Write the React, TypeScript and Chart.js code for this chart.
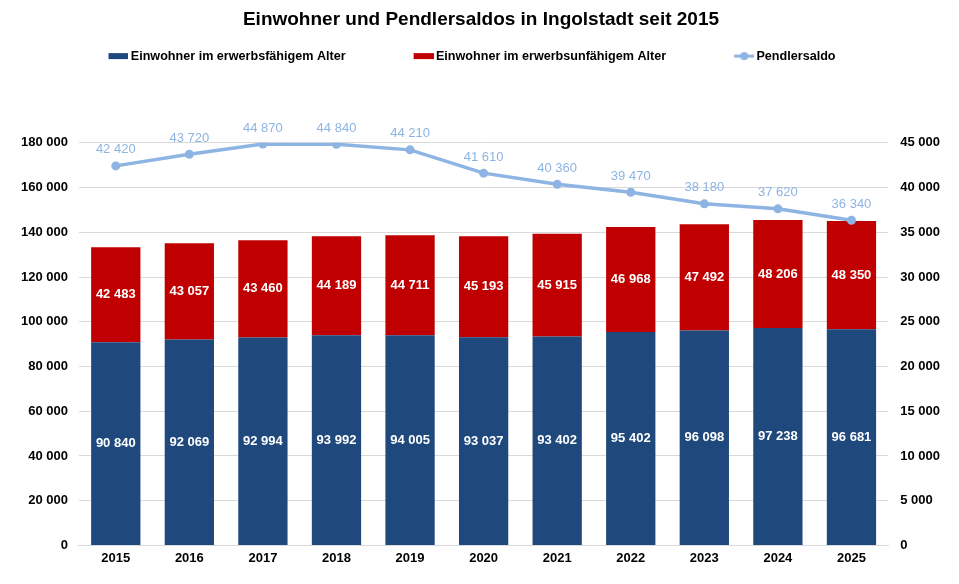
import { useEffect, useRef } from "react"
import { Chart, registerables } from "chart.js"

Chart.register(...registerables)

// Daten
const years = ["2015", "2016", "2017", "2018", "2019", "2020", "2021", "2022", "2023", "2024", "2025"]
const erwerbsfaehig = [90840, 92069, 92994, 93992, 94005, 93037, 93402, 95402, 96098, 97238, 96681]
const erwerbsunfaehig = [42483, 43057, 43460, 44189, 44711, 45193, 45915, 46968, 47492, 48206, 48350]
const pendlersaldo = [42420, 43720, 44870, 44840, 44210, 41610, 40360, 39470, 38180, 37620, 36340]

const BLUE = "#1F497D"
const RED = "#C00000"
const LIGHT = "#8DB4E2"
const FONT = "'Liberation Sans', Arial, sans-serif"

const LEGEND_PAD = 64
const LEGEND_HEIGHT = 102
const LEGEND_SHIFT_Y = LEGEND_PAD - 9
const LEGEND_SHIFT_X = 11

const fmt = (v: number) => String(v).replace(/\B(?=(\d{3})+(?!\d))/g, " ")

// Legendensymbole: etwas nach rechts versetzt, damit der Abstand zum Text klein bleibt
const legendIcon = (color: string, withLine: boolean) => {
  const c = document.createElement("canvas")
  c.width = 28
  c.height = 10
  const ctx = c.getContext("2d")!
  ctx.fillStyle = color
  ctx.strokeStyle = color
  if (withLine) {
    ctx.lineWidth = 3
    ctx.beginPath()
    ctx.moveTo(8, 5)
    ctx.lineTo(28, 5)
    ctx.stroke()
    ctx.beginPath()
    ctx.arc(18, 5, 4, 0, Math.PI * 2)
    ctx.fill()
  } else {
    ctx.fillRect(8, 2, 20, 6)
  }
  return c
}

// Legende: große Abstände zwischen den Einträgen, aber nah am Titel
const legendLayout = {
  id: "legendLayout",
  beforeInit(chart: any) {
    const legend = chart.legend
    const fit = legend.fit
    const draw = legend.draw
    legend.fit = function () {
      fit.bind(legend)()
      this.height = LEGEND_HEIGHT
    }
    legend.draw = function () {
      const ctx = chart.ctx
      ctx.save()
      ctx.translate(-LEGEND_SHIFT_X, -LEGEND_SHIFT_Y)
      draw.bind(legend)()
      ctx.restore()
    }
  },
}

// Datenbeschriftungen
const valueLabels = {
  id: "valueLabels",
  afterDatasetsDraw(chart: any) {
    const ctx = chart.ctx
    ctx.save()
    ctx.textAlign = "center"
    ctx.textBaseline = "middle"
    chart.data.datasets.forEach((ds: any, i: number) => {
      const meta = chart.getDatasetMeta(i)
      meta.data.forEach((el: any, j: number) => {
        const v = ds.data[j]
        if (ds.type === "line") {
          ctx.font = `13px ${FONT}`
          ctx.fillStyle = LIGHT
          ctx.fillText(fmt(v), el.x, el.y - 16)
        } else {
          ctx.font = `bold 13px ${FONT}`
          ctx.fillStyle = "#ffffff"
          ctx.fillText(fmt(v), el.x, (el.y + el.base) / 2)
        }
      })
    })
    ctx.restore()
  },
}

export default function App() {
  const chartRef = useRef<HTMLCanvasElement>(null)
  const chartInstance = useRef<Chart | null>(null)

  useEffect(() => {
    document.body.style.margin = "0"
    if (!chartRef.current) return
    if (chartInstance.current) chartInstance.current.destroy()
    const ctx = chartRef.current.getContext("2d")
    if (!ctx) return
    const blueIcon = legendIcon(BLUE, false)
    const redIcon = legendIcon(RED, false)
    const lineIcon = legendIcon(LIGHT, true)

    chartInstance.current = new Chart(ctx, {
      type: "bar",
      data: {
        labels: years,
        datasets: [
          {
            type: "line",
            label: "Pendlersaldo",
            data: pendlersaldo,
            yAxisID: "y1",
            borderColor: LIGHT,
            backgroundColor: LIGHT,
            borderWidth: 3.5,
            pointRadius: 4.5,
            pointBackgroundColor: LIGHT,
            pointBorderWidth: 0,
            tension: 0,
            order: 0,
          } as any,
          {
            label: "Einwohner im erwerbsfähigem Alter",
            data: erwerbsfaehig,
            backgroundColor: BLUE,
            stack: "a",
            yAxisID: "y",
            barPercentage: 0.67,
            categoryPercentage: 1,
            order: 1,
          },
          {
            label: "Einwohner im erwerbsunfähigem Alter",
            data: erwerbsunfaehig,
            backgroundColor: RED,
            stack: "a",
            yAxisID: "y",
            barPercentage: 0.67,
            categoryPercentage: 1,
            order: 1,
          },
        ],
      },
      options: {
        responsive: false,
        animation: false,
        layout: { padding: { left: 10, right: 7, bottom: 13 } },
        plugins: {
          title: {
            display: true,
            text: "Einwohner und Pendlersaldos in Ingolstadt seit 2015",
            color: "#000",
            font: { family: FONT, size: 19, weight: "bold" },
            padding: { top: 8, bottom: 10 },
          },
          legend: {
            position: "top",
            labels: {
              color: "#000",
              font: { family: FONT, size: 12.6, weight: "bold" },
              usePointStyle: true,
              pointStyleWidth: 20,
              boxHeight: 6,
              padding: LEGEND_PAD,
              generateLabels: () => [
                { text: "Einwohner im erwerbsfähigem Alter", fillStyle: BLUE, strokeStyle: BLUE, lineWidth: 0, pointStyle: blueIcon, datasetIndex: 1 },
                { text: "Einwohner im erwerbsunfähigem Alter", fillStyle: RED, strokeStyle: RED, lineWidth: 0, pointStyle: redIcon, datasetIndex: 2 },
                { text: "Pendlersaldo", fillStyle: LIGHT, strokeStyle: LIGHT, lineWidth: 0, pointStyle: lineIcon, datasetIndex: 0 },
              ] as any,
            },
          },
          tooltip: { enabled: false },
        },
        scales: {
          x: {
            stacked: true,
            grid: { display: false, drawTicks: false },
            border: { color: "#d9d9d9" },
            ticks: { color: "#000", font: { family: FONT, size: 13, weight: "bold" }, padding: 5 },
          },
          y: {
            stacked: true,
            position: "left",
            min: 0,
            max: 180000,
            grid: { color: "#d9d9d9", drawTicks: false },
            border: { display: false },
            ticks: {
              stepSize: 20000,
              color: "#000",
              padding: 11,
              font: { family: FONT, size: 13, weight: "bold" },
              callback: (v: any) => fmt(Number(v)),
            },
          },
          y1: {
            position: "right",
            min: 0,
            max: 45000,
            grid: { display: false, drawTicks: false },
            border: { display: false },
            ticks: {
              stepSize: 5000,
              color: "#000",
              padding: 12,
              font: { family: FONT, size: 13, weight: "bold" },
              callback: (v: any) => fmt(Number(v)),
            },
          },
        },
      },
      plugins: [legendLayout, valueLabels],
    })

    return () => {
      if (chartInstance.current) chartInstance.current.destroy()
    }
  }, [])

  return (
    <div style={{ width: 959, height: 584, background: "#fff" }}>
      <canvas ref={chartRef} width={959} height={584} />
    </div>
  )
}
